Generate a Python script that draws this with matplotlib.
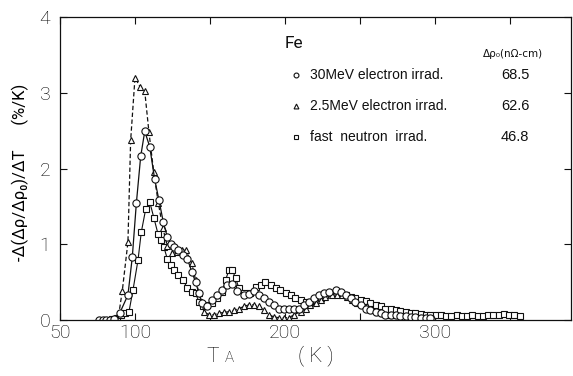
# Isochronal annealing spectra of irradiated Fe

import matplotlib
matplotlib.use("Agg")
import matplotlib.pyplot as plt

# 30 MeV electron irradiation (circles)
t_e30 = [76, 78.5, 81, 83.5, 86, 89.8, 95.3, 98.2, 100.9, 103.8, 106.5, 109.8,
         113.1, 116, 118.9, 121.5, 123.8, 126, 128.9, 132, 134.9, 137.8, 140.4,
         142.7, 144.9, 148.2, 151.5, 154.9, 158.2, 161.5, 164.9, 168.2, 172.7,
         176, 179.3, 182.7, 186, 189.3, 192.7, 196, 199.3, 202.7, 206, 209.3,
         212.7, 216, 219.3, 222.7, 226, 229.3, 233.8, 237.1, 240.4, 243.8, 247,
         250.4, 253.8, 257, 260.4, 263.8, 267, 270.4, 273.8, 277, 280.4, 283.8,
         287, 290.4, 293.8, 297]
v_e30 = [0, 0, 0, 0, 0.01, 0.09, 0.33, 0.83, 1.54, 2.16, 2.49, 2.29,
         1.86, 1.58, 1.29, 1.1, 1.0, 0.96, 0.92, 0.86, 0.81, 0.64, 0.5,
         0.35, 0.22, 0.18, 0.26, 0.33, 0.39, 0.46, 0.47, 0.38, 0.33,
         0.34, 0.38, 0.33, 0.29, 0.24, 0.2, 0.15, 0.14, 0.14, 0.14, 0.15,
         0.2, 0.24, 0.29, 0.33, 0.35, 0.37, 0.39, 0.37, 0.33, 0.29, 0.24,
         0.2, 0.15, 0.13, 0.11, 0.09, 0.07, 0.07, 0.06, 0.05, 0.05, 0.04,
         0.04, 0.03, 0.03, 0.03]

# 2.5 MeV electron irradiation (triangles, dashed)
t_e25 = [85, 89.3, 91.5, 95.3, 97.1, 100, 103.3, 106.5, 109.3, 112.5, 115.5,
         118.5, 121.5, 124.9, 128.2, 131.5, 134, 137.8, 140.4, 142.7, 146,
         149.3, 152.7, 156, 159.3, 162.7, 166, 169.3, 172.7, 176, 179.3, 182.7,
         186, 189.3, 192.7, 196, 199.3, 202.7, 206, 210.4, 213.8, 217, 220.4,
         223.8, 227, 231.6, 234.9, 238.2, 241.6, 245, 248, 251.6, 255, 258,
         261.6, 265, 268, 271.6, 275, 278, 281.5, 285, 288.5, 292, 295.5, 299]
v_e25 = [0.0, 0.09, 0.38, 1.03, 2.37, 3.2, 3.08, 3.02, 2.48, 1.95, 1.55,
         1.22, 0.98, 0.88, 0.9, 0.92, 0.92, 0.75, 0.53, 0.35, 0.11,
         0.07, 0.07, 0.09, 0.1, 0.11, 0.13, 0.15, 0.18, 0.2, 0.2, 0.18,
         0.13, 0.07, 0.04, 0.03, 0.03, 0.03, 0.07, 0.11, 0.15, 0.2, 0.22,
         0.26, 0.31, 0.33, 0.33, 0.33, 0.31, 0.26, 0.22, 0.2, 0.18, 0.13,
         0.11, 0.09, 0.07, 0.06, 0.06, 0.04, 0.04, 0.04, 0.03, 0.03, 0.03, 0.03]

# fast neutron irradiation (squares)
t_neu = [85, 88.2, 90.4, 93.1, 96, 98.7, 102, 104.2, 107.1, 109.8, 112.7,
         115.3, 117.5, 119.3, 121.5, 123.8, 126, 128.9, 132, 134.9, 137.8,
         140.4, 142.7, 145.3, 148.2, 151.5, 154.9, 158.2, 160.4, 162.7, 164.9,
         167.1, 169.3, 172.7, 176.7, 180.4, 183.8, 186.7, 190.4, 193.8, 197,
         200.4, 203.8, 207, 210.4, 213.8, 217, 220.4, 223.8, 227, 230.4, 233.8,
         237, 240.4, 243.8, 247, 250.4, 253.8, 257, 260.4, 263.8, 267, 270.4,
         273.8, 277, 280.4, 283.8, 287, 290.4, 293.8, 297, 300.5, 304, 307.5,
         311, 314.5, 318, 321.5, 325, 328.5, 332, 335.5, 339, 342.5, 346,
         349.5, 353, 356.5]
v_neu = [0.01, 0.03, 0.07, 0.09, 0.11, 0.4, 0.79, 1.16, 1.46, 1.56, 1.34,
         1.14, 1.05, 0.96, 0.81, 0.72, 0.66, 0.59, 0.53, 0.42, 0.37,
         0.35, 0.24, 0.18, 0.2, 0.22, 0.29, 0.37, 0.53, 0.66, 0.66,
         0.55, 0.42, 0.35, 0.35, 0.44, 0.46, 0.5, 0.46, 0.42, 0.39,
         0.35, 0.33, 0.29, 0.26, 0.24, 0.24, 0.26, 0.29, 0.33, 0.35, 0.35,
         0.35, 0.33, 0.31, 0.29, 0.27, 0.25, 0.22, 0.2, 0.18, 0.15, 0.14,
         0.13, 0.12, 0.1, 0.09, 0.09, 0.08, 0.07, 0.06, 0.06, 0.06, 0.05,
         0.05, 0.06, 0.05, 0.05, 0.06, 0.05, 0.05, 0.06, 0.06, 0.07, 0.08,
         0.07, 0.06, 0.05]

legend_labels = ["30MeV electron irrad.", "2.5MeV electron irrad.", "fast  neutron  irrad."]
legend_values = ["68.5", "62.6", "46.8"]
legend_markers = ["o", "^", "s"]

x_ticks = [50, 100, 150, 200, 250, 300, 350]
x_ticklabels = ["50", "100", "", "200", "", "300", ""]
y_ticks = [0, 1, 2, 3, 4]

W, H = 573, 376
ink = "#101010"
thin = ["Roboto", "DejaVu Sans"]
tick_font = {"family": thin, "weight": "light", "size": 14}

fig = plt.figure(figsize=(W / 100, H / 100), dpi=100)
ax = fig.add_axes([60 / W, 1 - 320 / H, 511 / W, 303 / H])

mk = dict(markerfacecolor="white", markeredgecolor=ink, markeredgewidth=0.8, color=ink)
ax.plot(t_neu, v_neu, "-", marker="s", markersize=4.2, linewidth=0.8, **mk)
ax.plot(t_e25, v_e25, "--", marker="^", markersize=4.6, linewidth=0.9,
        dashes=(3.5, 2), **mk)
ax.plot(t_e30, v_e30, "-", marker="o", markersize=5.2, linewidth=0.9, **mk)

ax.set_xlim(50, 390.7)
ax.set_ylim(0, 4)
ax.set_xticks(x_ticks)
ax.set_xticklabels(x_ticklabels, fontdict=tick_font)
ax.set_yticks(y_ticks)
ax.set_yticklabels([str(v) for v in y_ticks], fontdict=tick_font)
ax.tick_params(direction="in", length=5, width=0.8, color=ink, labelcolor="black",
               top=True, right=True, pad=3)
ax.tick_params(axis="y", pad=7)
for s in ax.spines.values():
    s.set_linewidth(0.9)
    s.set_color(ink)

# axis titles
fig.text(20 / W, 1 - 172 / H, "-Δ(Δρ/Δρ₀)/ΔT      (%/K)", rotation=90,
         ha="center", va="center", fontsize=12, color="black",
         fontfamily=thin)
fig.text(213 / W, 1 - 356 / H, "T", ha="center", va="center", fontsize=15,
         color="black", fontfamily=thin, fontweight="light")
fig.text(229 / W, 1 - 358 / H, "A", ha="center", va="center", fontsize=11,
         color="black", fontfamily=thin, fontweight="light")
fig.text(316 / W, 1 - 356 / H, "( K )", ha="center", va="center", fontsize=15,
         color="black", fontfamily=thin, fontweight="light")

# hand-made legend block
fig.text(285 / W, 1 - 44 / H, "Fe", ha="left", va="center", fontsize=12.5,
         color=ink, fontfamily=thin)
fig.text(483 / W, 1 - 54 / H, "Δρ₀(nΩ-cm)", ha="left", va="center", fontsize=7.5, color=ink)
rows_y = [75, 106, 137]
for lab, val, m, ry in zip(legend_labels, legend_values, legend_markers, rows_y):
    ax.plot([296 / W], [1 - ry / H], marker=m, markersize=3.5, transform=fig.transFigure,
            clip_on=False, linestyle="none", **mk)
    fig.text(310 / W, 1 - ry / H, lab, ha="left", va="center", fontsize=10, color=ink,
             fontfamily=["Liberation Sans", "DejaVu Sans"])
    fig.text(515 / W, 1 - ry / H, val, ha="center", va="center", fontsize=10.5, color=ink,
             fontfamily=["Liberation Sans", "DejaVu Sans"])

fig.savefig("out.png", dpi=100)
